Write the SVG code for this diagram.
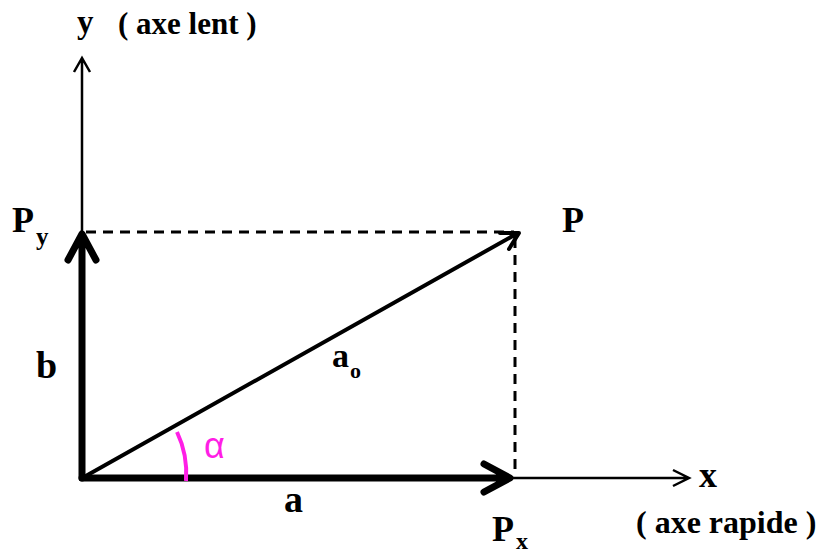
<svg xmlns="http://www.w3.org/2000/svg" width="819" height="553" viewBox="0 0 819 553">
<style>
.t{font-family:"Liberation Serif","Times New Roman",serif;font-weight:bold;fill:#000}
.thin{stroke:#000;stroke-width:2.5;fill:none}
.dash{stroke:#000;stroke-width:3;fill:none;stroke-dasharray:10 7}
.thick{stroke:#000;stroke-width:7;fill:none;stroke-linecap:round;stroke-linejoin:round}
.diag{stroke:#000;stroke-width:4;fill:none;stroke-linecap:round;stroke-linejoin:round}
</style>
<rect width="819" height="553" fill="#fff"/>
<g id="connectors">
  <path class="dash" d="M86 232 H514"/>
  <path class="dash" d="M515 238 V476"/>
  <path class="thin" d="M82 478 V58 M74 72 L82 58 L90 72"/>
  <path class="thin" d="M82 478 H689 M673 470 L689 478 L673 486"/>
  <path class="diag" d="M84 477 L518 233 M500 233 L519 233 L509 249"/>
  <path class="thick" d="M82 478 V236 M68 260 L82 234 L96 260"/>
  <path class="thick" d="M82 478 H508 M484 464 L510 478 L484 492"/>
  <path d="M177 432 Q188 455 186 481" stroke="#ff1ee6" stroke-width="4" fill="none"/>
</g>
<g id="y-label"><text class="t" x="77" y="33" font-size="33">y</text><text class="t" x="118" y="34" font-size="31">( axe lent )</text></g>
<g id="Py"><text class="t" x="12" y="232" font-size="36">P</text><text class="t" x="36" y="245" font-size="25">y</text></g>
<g id="P"><text class="t" x="562" y="232" font-size="36">P</text></g>
<g id="b"><text class="t" x="36" y="378" font-size="38">b</text></g>
<g id="ao"><text class="t" x="332" y="367" font-size="34">a</text><text class="t" x="350" y="378" font-size="22">o</text></g>
<g id="alpha"><text x="204" y="458" font-size="36" fill="#ff1ee6" font-family="'Liberation Sans',Arial,sans-serif">α</text></g>
<g id="a"><text class="t" x="284" y="512" font-size="38">a</text></g>
<g id="x-label"><text class="t" x="699" y="487" font-size="36">x</text></g>
<g id="Px"><text class="t" x="492" y="541" font-size="36">P</text><text class="t" x="516" y="549" font-size="24">x</text></g>
<g id="rapide"><text class="t" x="636" y="533" font-size="32">( axe rapide )</text></g>
</svg>
